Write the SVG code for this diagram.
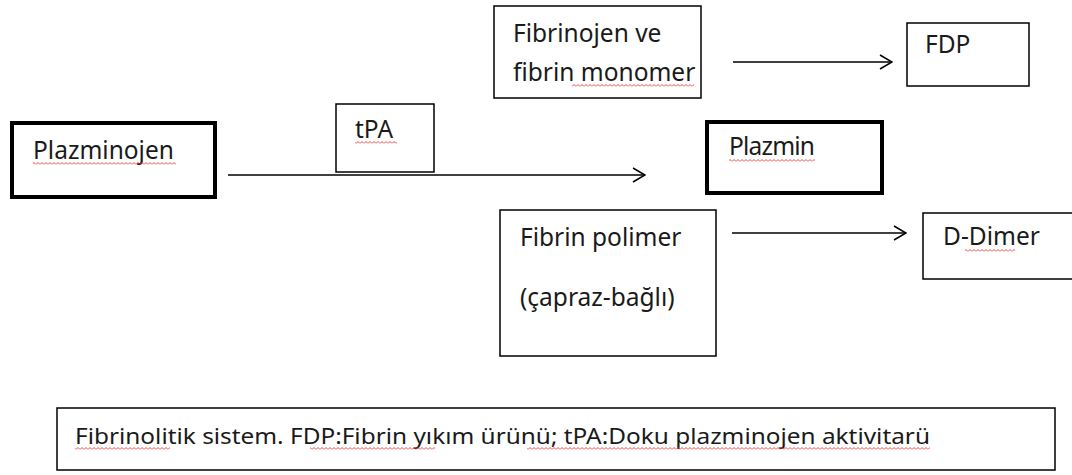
<svg xmlns="http://www.w3.org/2000/svg" width="1072" height="475" viewBox="0 0 1072 475">
  <style>
    .box { fill: #fff; stroke: #000; stroke-width: 1.5; }
    .bold { fill: #fff; stroke: #000; stroke-width: 4; }
    .lbl { font-family: "Noto Sans", "Open Sans", sans-serif; font-size: 24.5px; fill: #1a1a1a; }
    .cap { font-family: "Noto Sans", "Open Sans", sans-serif; font-size: 22.5px; fill: #1a1a1a; }
    .conn { stroke: #000; stroke-width: 1.5; fill: none; }
    .spell { fill: url(#wave); }
  </style>
  <defs>
    <marker id="open" viewBox="0 0 14 16" refX="13" refY="8" markerWidth="14" markerHeight="16" markerUnits="userSpaceOnUse" orient="auto">
      <path d="M1 1 L13 8 L1 15" fill="none" stroke="#000" stroke-width="1.5"/>
    </marker>
    <pattern id="wave" width="4" height="3" patternUnits="userSpaceOnUse">
      <path d="M0 2.5 L2 0.5 L4 2.5" fill="none" stroke="#e33" stroke-width="0.9"/>
    </pattern>
  </defs>

  <g id="connectors">
    <line class="conn" x1="228" y1="175" x2="645" y2="175" marker-end="url(#open)"/>
    <line class="conn" x1="733" y1="62" x2="892" y2="62" marker-end="url(#open)"/>
    <line class="conn" x1="732" y1="233" x2="906" y2="233" marker-end="url(#open)"/>
  </g>

  <g id="plazminojen">
    <rect class="bold" x="12" y="123" width="203" height="74"/>
    <text class="lbl" x="33" y="159">Plazminojen</text>
    <rect class="spell" x="33" y="162" width="143" height="3"/>
  </g>

  <g id="tpa">
    <rect class="box" x="336" y="104" width="98" height="68"/>
    <text class="lbl" x="355" y="138">tPA</text>
    <rect class="spell" x="355" y="141" width="42" height="3"/>
  </g>

  <g id="fibrinojen">
    <rect class="box" x="494" y="6" width="207" height="92"/>
    <text class="lbl" x="513" y="42">Fibrinojen ve</text>
    <text class="lbl" x="513" y="81">fibrin monomer</text>
    <rect class="spell" x="572" y="84" width="122" height="3"/>
  </g>

  <g id="fdp">
    <rect class="box" x="907" y="23" width="122" height="63"/>
    <text class="lbl" x="925" y="53">FDP</text>
  </g>

  <g id="plazmin">
    <rect class="bold" x="707" y="122" width="175" height="71"/>
    <text class="lbl" x="729" y="155" textLength="86">Plazmin</text>
    <rect class="spell" x="729" y="159" width="86" height="3"/>
  </g>

  <g id="fibrin-polimer">
    <rect class="box" x="500" y="210" width="216" height="146"/>
    <text class="lbl" x="520" y="246">Fibrin polimer</text>
    <text class="lbl" x="520" y="306">(çapraz-bağlı)</text>
  </g>

  <g id="d-dimer">
    <rect class="box" x="923" y="213" width="160" height="66"/>
    <text class="lbl" x="943" y="245">D-Dimer</text>
    <rect class="spell" x="965" y="249" width="50" height="3"/>
  </g>

  <g id="caption">
    <rect class="box" x="57" y="408" width="998" height="62"/>
    <text class="cap" x="75" y="444" textLength="855" lengthAdjust="spacingAndGlyphs">Fibrinolitik sistem. FDP:Fibrin yıkım ürünü; tPA:Doku plazminojen aktivitarü</text>
    <rect class="spell" x="75" y="447" width="95" height="3"/>
    <rect class="spell" x="310" y="447" width="125" height="3"/>
    <rect class="spell" x="527" y="447" width="403" height="3"/>
  </g>
</svg>
